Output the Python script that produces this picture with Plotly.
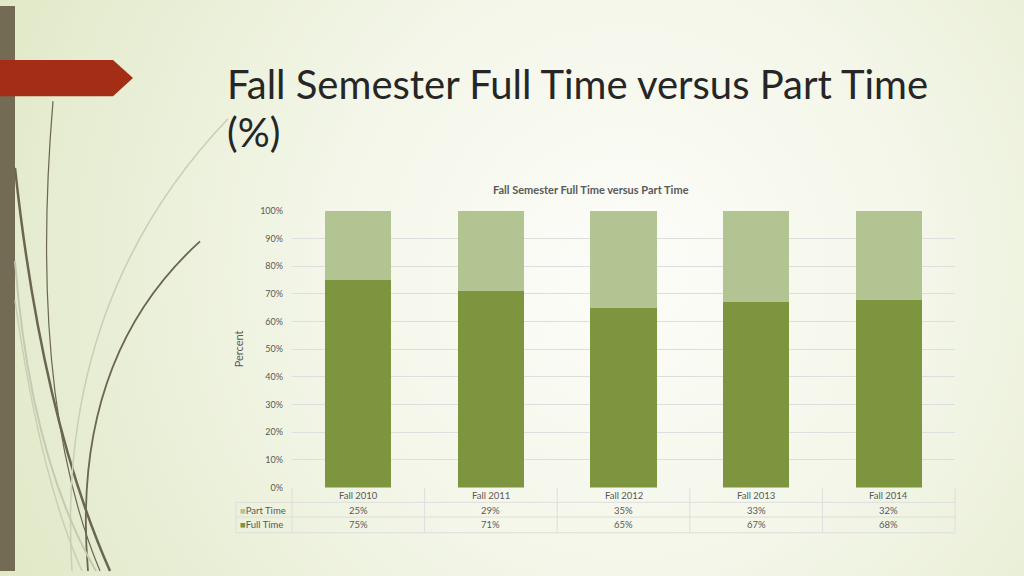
import base64
import plotly.graph_objects as go

# data
categories = ["Fall 2010", "Fall 2011", "Fall 2012", "Fall 2013", "Fall 2014"]
part_time = [25, 29, 35, 33, 32]
full_time = [75, 71, 65, 67, 68]
y_ticks = [0, 10, 20, 30, 40, 50, 60, 70, 80, 90, 100]
y_tick_labels = [f"{v}%" for v in y_ticks]

W, H = 1024, 576
FULL_C = "#7e953f"
PART_C = "#b3c493"
GRID_C = "#dedede"
TXT_C = "#595959"


def px(x):
    return x / W


def py(y):
    return 1 - y / H


# slide background (gradient) as an svg image
svg = f"""<svg xmlns='http://www.w3.org/2000/svg' width='{W}' height='{H}' viewBox='0 0 {W} {H}' preserveAspectRatio='none'>
<defs><radialGradient id='g' cx='620' cy='270' r='640' gradientUnits='userSpaceOnUse'>
<stop offset='0' stop-color='#fdfdf9'/><stop offset='0.45' stop-color='#f3f6e8'/>
<stop offset='1' stop-color='#e1e9c8'/></radialGradient></defs>
<rect x='-10' y='-10' width='{W + 20}' height='{H + 20}' fill='url(#g)'/></svg>"""
bg_src = "data:image/svg+xml;base64," + base64.b64encode(svg.encode()).decode()

x0, x1 = 292, 955   # plot area in pixels
y_top, y_bot = 209, 491

fig = go.Figure()
fig.add_trace(go.Bar(x=categories, y=full_time, name="Full Time",
                     marker=dict(color=FULL_C, line_width=0)))
fig.add_trace(go.Bar(x=categories, y=part_time, name="Part Time",
                     marker=dict(color=PART_C, line_width=0)))

shapes = []
annotations = []

# decoration: left bar, red arrow, curves
shapes.append(dict(type="rect", xref="paper", yref="paper", x0=0, x1=px(15), y0=0, y1=1,
                   fillcolor="#746b55", line_width=0, layer="above"))
arrow = [(0, 55), (113, 55), (133, 73.5), (113, 92), (0, 92)]
path = "M " + " L ".join(f"{px(a)},{py(b)}" for a, b in arrow) + " Z"
shapes.append(dict(type="path", xref="paper", yref="paper", path=path,
                   fillcolor="#a32e15", line_width=0))
curves = [
    ((53, 97), (28, 400), (100, 576), "#6b6650", 1.2),
    ((15, 165), (42, 420), (110, 576), "#6b6650", 2.5),
    ((200, 240), (70, 360), (88, 576), "#6b6650", 1.8),
    ((228, 115), (55, 300), (72, 576), "#c9cfb5", 1.5),
    ((15, 260), (30, 460), (96, 576), "#c4cab0", 2),
    ((15, 300), (40, 480), (82, 576), "#c9cfb5", 1.5),
]
for (sx, sy), (cx, cy), (ex, ey), col, w in curves:
    shapes.append(dict(type="path", xref="paper", yref="paper",
                       path=f"M {px(sx)},{py(sy)} Q {px(cx)},{py(cy)} {px(ex)},{py(ey)}",
                       line=dict(color=col, width=w)))

# data table below the chart
row_y = [491, 506, 521, 537]
for y in row_y[1:]:
    shapes.append(dict(type="line", xref="paper", yref="paper", x0=px(236),
                       x1=px(x1), y0=py(y), y1=py(y), line=dict(color=GRID_C, width=1)))
step = (x1 - x0) / len(categories)
for i in range(len(categories) + 1):
    xx = x0 + i * step
    shapes.append(dict(type="line", xref="paper", yref="paper", x0=px(xx), x1=px(xx),
                       y0=py(491), y1=py(537), line=dict(color=GRID_C, width=1)))
shapes.append(dict(type="line", xref="paper", yref="paper", x0=px(236), x1=px(236),
                   y0=py(506), y1=py(537), line=dict(color=GRID_C, width=1)))

tf = dict(family="Lato", size=9.5, color=TXT_C)
for i, cat in enumerate(categories):
    cx = px(x0 + (i + 0.5) * step)
    annotations.append(dict(x=cx, y=py(499), text=cat, font=tf))
    annotations.append(dict(x=cx, y=py(514), text=f"{part_time[i]}%", font=tf))
    annotations.append(dict(x=cx, y=py(529), text=f"{full_time[i]}%", font=tf))
annotations.append(dict(x=px(238), y=py(514), xanchor="left",
                        text=f"<span style='color:{PART_C}'>■</span>Part Time", font=tf))
annotations.append(dict(x=px(238), y=py(529), xanchor="left",
                        text=f"<span style='color:{FULL_C}'>■</span>Full Time", font=tf))

# titles
title_font = dict(family="Lato", size=40, color="#262626")
annotations.append(dict(x=px(225), y=py(80), xanchor="left",
                        text="Fall Semester Full Time versus Part Time", font=title_font))
annotations.append(dict(x=px(225), y=py(128), xanchor="left", text="(%)", font=title_font))
annotations.append(dict(x=px(591), y=py(187), text="<b>Fall Semester Full Time versus Part Time</b>",
                        font=dict(family="Lato", size=11, color=TXT_C)))
annotations.append(dict(x=px(238), y=py(350), text="Percent", textangle=-90,
                        font=dict(family="Lato", size=11, color=TXT_C)))

for a in annotations:
    a.update(xref="paper", yref="paper", showarrow=False)
    a.setdefault("xanchor", "center")
    a.setdefault("yanchor", "middle")

fig.update_layout(
    width=W, height=H, margin=dict(l=0, r=0, t=0, b=0),
    paper_bgcolor="#e4ebcf", plot_bgcolor="rgba(0,0,0,0)",
    barmode="stack", bargap=0.5, showlegend=False,
    images=[dict(source=bg_src, xref="paper", yref="paper", x=-0.03, y=1.05,
                 sizex=1.06, sizey=1.1, sizing="stretch", layer="below",
                 xanchor="left", yanchor="top")],
    shapes=shapes, annotations=annotations,
    xaxis=dict(domain=[px(x0), px(x1)], showticklabels=False, showgrid=False,
               showline=False, zeroline=False),
    yaxis=dict(domain=[py(y_bot), py(y_top)], range=[0, 100], tickmode="array",
               tickvals=y_ticks, ticktext=y_tick_labels, gridcolor=GRID_C, zeroline=False,
               tickfont=dict(family="Lato", size=9, color=TXT_C), ticklabelstandoff=8),
)

# page has a default body margin; remove it so the slide fills the window
fig.write_html("out.html", config={"displayModeBar": False},
               post_script="document.body.style.margin='0';")
